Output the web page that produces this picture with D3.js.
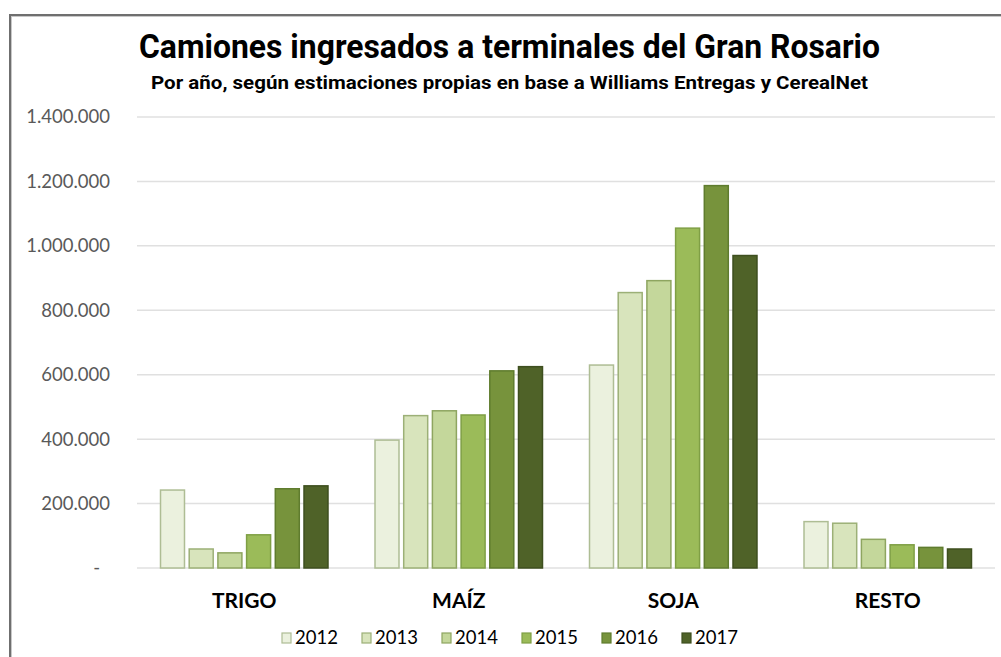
<!DOCTYPE html>
<html><head><meta charset="utf-8">
<script src="https://cdn.jsdelivr.net/npm/d3@7"></script>
<style>body{margin:0;background:#fff}svg{display:block}</style>
</head><body>
<svg id="c" width="1001" height="657"></svg>
<script>
const categories = ["TRIGO", "MAÍZ", "SOJA", "RESTO"];
const years = ["2012", "2013", "2014", "2015", "2016", "2017"];
const v2012 = [242000, 397000, 630000, 144000];
const v2013 = [59000, 473000, 855000, 139000];
const v2014 = [47000, 488000, 892000, 89000];
const v2015 = [103000, 475000, 1055000, 72000];
const v2016 = [246000, 612000, 1187000, 64000];
const v2017 = [255000, 625000, 970000, 59000];
const yTicks = [0, 200000, 400000, 600000, 800000, 1000000, 1200000, 1400000];
const fills = ["#EBF1DE", "#D8E4BC", "#C4D79B", "#9BBB59", "#77933C", "#4F6228"];
const strokes = ["#aebd94", "#9cb077", "#8ea560", "#7f9f45", "#5f7c2e", "#3e4f1f"];
const title = "Camiones ingresados a terminales del Gran Rosario";
const subtitle = "Por año, según estimaciones propias en base a Williams Entregas y CerealNet";

const series = [v2012, v2013, v2014, v2015, v2016, v2017];
const svg = d3.select("#c");

// frame
svg.append("line").attr("x1", 9).attr("x2", 1001).attr("y1", 15).attr("y2", 15).attr("stroke", "#6f6f6f").attr("stroke-width", 2);
svg.append("line").attr("x1", 10).attr("x2", 10).attr("y1", 14).attr("y2", 657).attr("stroke", "#6f6f6f").attr("stroke-width", 2);
svg.append("line").attr("x1", 11.5).attr("x2", 11.5).attr("y1", 16).attr("y2", 657).attr("stroke", "#c8c8c8").attr("stroke-width", 1);
svg.append("line").attr("x1", 11).attr("x2", 1001).attr("y1", 16.5).attr("y2", 16.5).attr("stroke", "#c8c8c8").attr("stroke-width", 1);

// titles (condensed look via textLength)
svg.append("text").attr("x", 509.5).attr("y", 58).attr("text-anchor", "middle")
  .attr("font-family", "Roboto, DejaVu Sans, sans-serif")
  .attr("font-weight", "bold").attr("font-size", 34).attr("fill", "#000")
  .attr("textLength", 741).attr("lengthAdjust", "spacingAndGlyphs").text(title);
svg.append("text").attr("x", 509.5).attr("y", 89).attr("text-anchor", "middle")
  .attr("font-family", "Roboto, DejaVu Sans, sans-serif")
  .attr("font-weight", "bold").attr("font-size", 19).attr("fill", "#000")
  .attr("textLength", 717).attr("lengthAdjust", "spacingAndGlyphs").text(subtitle);

const y = d3.scaleLinear().domain([0, 1400000]).range([568, 117]);
const x0 = d3.scaleBand().domain(categories).range([137, 995]).padding(0);
const x1 = d3.scaleBand().domain(years).range([0, x0.bandwidth()]).paddingInner(0.164).paddingOuter(0.819);

// grid
svg.append("g").selectAll("line").data(yTicks).join("line")
  .attr("x1", 137).attr("x2", 995)
  .attr("y1", d => y(d)).attr("y2", d => y(d))
  .attr("stroke", "#e0e0e0").attr("stroke-width", 1.5);

// y labels
const fmt = d => d === 0 ? "-" : d3.format(",")(d).replace(/,/g, ".");
svg.append("g").selectAll("text").data(yTicks).join("text")
  .attr("x", d => d === 0 ? 100 : 110).attr("y", d => y(d)).attr("dy", "0.35em")
  .attr("text-anchor", "end").attr("font-family", "Lato, sans-serif").attr("font-size", 18.5)
  .attr("fill", "#595959").text(fmt);

// bars
const g = svg.append("g");
categories.forEach((c, ci) => {
  series.forEach((s, si) => {
    g.append("rect")
      .attr("x", x0(c) + x1(years[si]))
      .attr("y", y(s[ci]))
      .attr("width", x1.bandwidth())
      .attr("height", y(0) - y(s[ci]))
      .attr("fill", fills[si]).attr("stroke", strokes[si]).attr("stroke-width", 1.5);
  });
});

// category labels
svg.append("g").selectAll("text").data(categories).join("text")
  .attr("x", d => x0(d) + x0.bandwidth() / 2).attr("y", 601).attr("dy", "0.35em")
  .attr("text-anchor", "middle").attr("font-family", "Lato, sans-serif").attr("font-weight", "bold")
  .attr("font-size", 21).attr("fill", "#000").text(d => d);

// legend
const lg = svg.append("g");
years.forEach((yr, i) => {
  const lx = 282 + i * 80;
  lg.append("rect").attr("x", lx).attr("y", 633).attr("width", 9).attr("height", 10)
    .attr("fill", fills[i]).attr("stroke", strokes[i]).attr("stroke-width", 1.2);
  lg.append("text").attr("x", lx + 13).attr("y", 638).attr("dy", "0.35em")
    .attr("font-family", "Lato, sans-serif").attr("font-size", 18.5).attr("fill", "#000").text(yr);
});
</script>
</body></html>
